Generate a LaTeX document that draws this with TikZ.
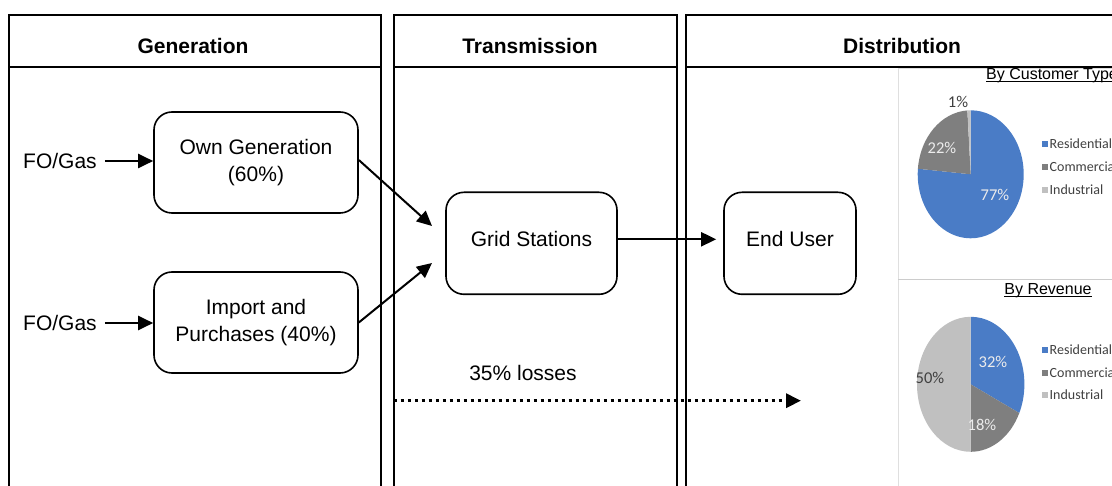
\documentclass[tikz,border=0pt]{standalone}
\usepackage{fontspec}
\setmainfont{Liberation Sans}
\newfontfamily\chartfont{Carlito}
\usetikzlibrary{arrows.meta,calc}
\definecolor{pieblue}{HTML}{4A7CC6}
\definecolor{piedark}{HTML}{7F7F7F}
\definecolor{pielight}{HTML}{C0C0C0}
\definecolor{charttext}{HTML}{404040}
\newcommand\myul[1]{\setbox0\hbox{#1}\rlap{\rule[-2.2pt]{\wd0}{1.3pt}}\box0}
\begin{document}
\begin{tikzpicture}[x=1pt,y=-1pt,line join=miter,
  panel/.style={line width=2pt},
  box/.style={draw, line width=1.6pt, rounded corners=18pt, align=center,
    font=\fontsize{21}{27}\selectfont, inner sep=0pt},
  lbl/.style={font=\fontsize{21}{25}\selectfont, inner sep=0pt},
  hdr/.style={font=\fontsize{21}{25}\selectfont\bfseries, inner sep=0pt},
  arr/.style={-{Triangle[length=15pt,width=14pt]}, line width=2pt},
  dotarr/.style={-{Triangle[length=15pt,width=14pt]}, line width=3.2pt,
    dash pattern=on 3.2pt off 3.8pt},
  pct/.style={font=\chartfont\fontsize{16.5}{18}\selectfont, inner sep=0pt},
  leg/.style={font=\chartfont\fontsize{14}{16}\selectfont, text=charttext, inner sep=0pt, anchor=west},
  sq/.style={minimum size=6.5pt, inner sep=0pt},
  chartcap/.style={font=\fontsize{16}{19}\selectfont, inner sep=0pt}
]
\useasboundingbox (0,0) rectangle (1112,486);
\clip (0,0) rectangle (1112,486);

% panels
\draw[panel] (8.5,500) -- (8.5,15) -- (381,15) -- (381,500);
\draw[panel] (8.5,67) -- (381,67);
\draw[panel] (393.7,500) -- (393.7,15) -- (676.7,15) -- (676.7,500);
\draw[panel] (393.7,67) -- (676.7,67);
\draw[panel] (685.7,500) -- (685.7,15) -- (1125,15);
\draw[panel] (685.7,67) -- (1125,67);

\node[hdr] (hg) at (193,46) {Generation};
\node[hdr] (ht) at (530,46) {Transmission};
\node[hdr] (hd) at (902,46) {Distribution};

% boxes
\node[box, minimum width=204pt, minimum height=101pt] (og) at (256,162.5) {Own Generation\\(60\%)};
\node[box, minimum width=204pt, minimum height=101pt] (ip) at (256,322.5) {Import and\\Purchases (40\%)};
\node[box, minimum width=171pt, minimum height=102pt, text height=15pt, text depth=8pt] (gs) at (531.5,243.3) {Grid Stations};
\node[box, minimum width=132pt, minimum height=102pt, text height=15pt, text depth=8pt] (eu) at (790,243.3) {End User};

\node[lbl, anchor=west] (f1) at (23,161) {FO/Gas};
\node[lbl, anchor=west] (f2) at (23,323) {FO/Gas};

\coordinate (g1) at (432,226);
\coordinate (g2) at (432,263);

\draw[arr] ([xshift=8pt]f1.east) -- (f1.east -| og.west);
\draw[arr] ([xshift=8pt]f2.east) -- (f2.east -| ip.west);
\draw[arr] ([yshift=2.5pt]og.east) -- (g1);
\draw[arr] (ip.east) -- (g2);
\draw[arr] ([yshift=4pt]gs.east) -- ([yshift=4pt,xshift=-7pt]eu.west);

% losses
\coordinate (ds) at (393.7,400.7);
\coordinate (de) at (801,400.7);
\draw[dotarr] (ds) -- (de);
\node[lbl] (loss) at (523,373) {35\% losses};

% chart image area
\draw[gray!25, line width=0.8pt] (898,68) rectangle (1125,500);
\draw[gray!40, line width=0.8pt] (898,279.3) -- (1125,279.3);

% top pie
\coordinate (p1) at (970.7,174.3);
\fill[pieblue] (p1) -- ([shift={(90:53pt and 64pt)}]p1) arc[start angle=90, end angle=-185, x radius=53pt, y radius=64pt] -- cycle;
\fill[piedark] (p1) -- ([shift={(-185:53pt and 64pt)}]p1) arc[start angle=-185, end angle=-266.4, x radius=53pt, y radius=64pt] -- cycle;
\fill[pielight] (p1) -- ([shift={(-266.4:53pt and 64pt)}]p1) arc[start angle=-266.4, end angle=-270, x radius=53pt, y radius=64pt] -- cycle;
\node[pct, text=charttext] (t1) at (958,102) {1\%};
\node[pct, text=white!85!gray] (t22) at (942,148) {22\%};
\node[pct, text=white!85!gray] (t77) at (995,195) {77\%};

\node[chartcap, anchor=base west] (cct) at (986,80) {\myul{By Customer Type}};

\node[sq, fill=pieblue] (a1) at (1045,144) {};
\node[sq, fill=piedark] (a2) at (1045,167) {};
\node[sq, fill=pielight] (a3) at (1045,190) {};
\node[leg] (la1) at (1049.5,144) {Residential};
\node[leg] (la2) at (1049.5,167) {Commercial};
\node[leg] (la3) at (1049.5,190) {Industrial};

% bottom pie
\coordinate (p2) at (970.7,384.3);
\fill[pieblue] (p2) -- ([shift={(90:53.7pt and 67.5pt)}]p2) arc[start angle=90, end angle=-25.2, x radius=53.7pt, y radius=67.5pt] -- cycle;
\fill[piedark] (p2) -- ([shift={(-25.2:53.7pt and 67.5pt)}]p2) arc[start angle=-25.2, end angle=-90, x radius=53.7pt, y radius=67.5pt] -- cycle;
\fill[pielight] (p2) -- ([shift={(-90:53.7pt and 67.5pt)}]p2) arc[start angle=-90, end angle=-270, x radius=53.7pt, y radius=67.5pt] -- cycle;
\node[pct, text=white!85!gray] (t32) at (993,362) {32\%};
\node[pct, text=charttext] (t50) at (930,378) {50\%};
\node[pct, text=white!85!gray] (t18) at (982,425) {18\%};

\node[chartcap, anchor=base] (crev) at (1048,295) {\myul{By Revenue}};

\node[sq, fill=pieblue] (b1) at (1045,350) {};
\node[sq, fill=piedark] (b2) at (1045,373) {};
\node[sq, fill=pielight] (b3) at (1045,395) {};
\node[leg] (lb1) at (1049.5,350) {Residential};
\node[leg] (lb2) at (1049.5,373) {Commercial};
\node[leg] (lb3) at (1049.5,395) {Industrial};
\end{tikzpicture}
\end{document}
